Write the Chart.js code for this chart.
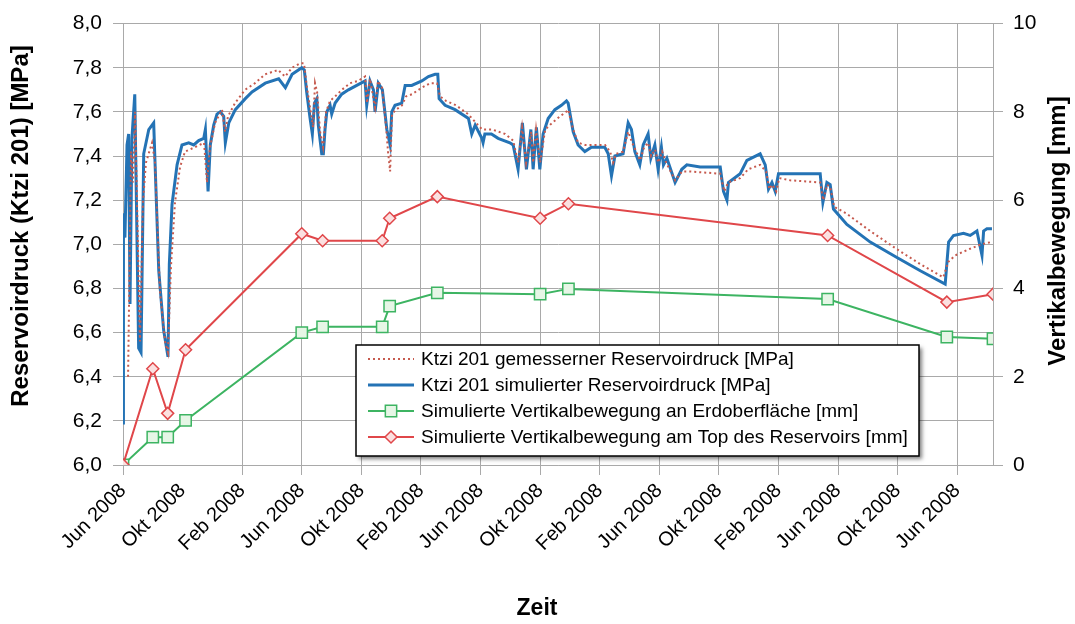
<!DOCTYPE html>
<html>
<head>
<meta charset="utf-8">
<title>Reservoirdruck und Vertikalbewegung</title>
<script src="https://cdn.jsdelivr.net/npm/chart.js@4.4.1/dist/chart.umd.min.js"></script>
<style>
  html, body { margin: 0; padding: 0; background: #ffffff; }
  #wrap { width: 1075px; height: 624px; }
</style>
</head>
<body>
<div id="wrap"><canvas id="chart" width="1075" height="624"></canvas></div>
<script>
// ---- Axis labelling ----
const timeLabels = ['Jun 2008', 'Okt 2008', 'Feb 2008', 'Jun 2008', 'Okt 2008', 'Feb 2008',
  'Jun 2008', 'Okt 2008', 'Feb 2008', 'Jun 2008', 'Okt 2008', 'Feb 2008',
  'Jun 2008', 'Okt 2008', 'Jun 2008'];
const monthsPerLabel = 4;          // one time label every 4 months
const lastMonth = 58.4;            // end of the time axis (months after the first label)
const pressureTicks = [6.0, 6.2, 6.4, 6.6, 6.8, 7.0, 7.2, 7.4, 7.6, 7.8, 8.0];
const movementTicks = [0, 2, 4, 6, 8, 10];

const titleLeft = 'Reservoirdruck (Ktzi 201) [MPa]';
const titleRight = 'Vertikalbewegung [mm]';
const titleBottom = 'Zeit';

// ---- Series: simulated reservoir pressure (months, MPa) ----
const simMonths = [0.00,0.03,0.13,0.27,0.38,0.47,0.60,0.79,0.87,1.05,
  1.21,1.39,1.73,2.06,2.13,2.40,2.73,3.02,3.11,3.29,
  3.63,3.96,4.41,4.75,5.08,5.42,5.53,5.71,5.86,6.09,
  6.31,6.53,6.76,6.87,7.10,7.54,8.21,8.66,9.55,10.45,
  10.90,11.35,12.00,12.17,12.33,12.56,12.71,12.85,13.01,13.11,
  13.34,13.45,13.56,13.68,13.90,14.01,14.24,14.68,15.13,15.69,
  16.25,16.36,16.58,16.81,16.92,17.14,17.41,17.71,17.93,18.04,
  18.26,18.71,18.94,19.38,20.06,20.50,20.95,21.13,21.22,21.62,
  22.29,23.19,23.41,23.64,24.09,24.17,24.29,24.73,25.18,25.97,
  26.19,26.52,26.81,27.08,27.38,27.53,27.75,27.98,28.20,28.54,
  28.99,29.43,29.77,29.88,30.22,30.55,31.00,31.44,32.34,32.57,
  32.79,33.02,33.57,33.91,34.13,34.36,34.69,34.92,35.25,35.43,
  35.70,35.92,36.14,36.28,36.51,37.06,37.51,37.85,38.74,40.09,
  40.31,40.54,40.64,41.43,41.88,42.77,43.11,43.33,43.56,43.78,
  44.00,44.56,46.80,46.98,47.25,47.47,47.69,48.59,50.16,51.95,
  53.52,55.19,55.42,55.75,56.42,56.87,57.32,57.66,57.77,57.99,
  58.33];
const simMPa = [6.19,7.14,7.03,7.45,7.50,6.73,7.48,7.68,7.33,6.53,
  6.51,7.41,7.52,7.55,7.41,6.88,6.61,6.49,6.91,7.18,
  7.36,7.45,7.46,7.45,7.47,7.48,7.52,7.24,7.45,7.54,
  7.59,7.60,7.58,7.46,7.55,7.61,7.66,7.69,7.73,7.75,
  7.71,7.77,7.80,7.79,7.69,7.57,7.50,7.64,7.66,7.54,
  7.41,7.41,7.52,7.60,7.63,7.59,7.64,7.68,7.70,7.72,
  7.74,7.63,7.74,7.70,7.60,7.73,7.70,7.52,7.45,7.60,
  7.63,7.64,7.72,7.72,7.74,7.76,7.77,7.77,7.66,7.63,
  7.61,7.57,7.50,7.54,7.48,7.46,7.50,7.50,7.48,7.46,
  7.45,7.34,7.55,7.34,7.52,7.34,7.53,7.34,7.50,7.57,
  7.61,7.63,7.65,7.64,7.51,7.45,7.42,7.44,7.44,7.41,
  7.31,7.40,7.41,7.55,7.52,7.42,7.36,7.45,7.50,7.39,
  7.45,7.34,7.44,7.36,7.39,7.28,7.34,7.36,7.35,7.35,
  7.24,7.20,7.28,7.32,7.38,7.41,7.36,7.25,7.28,7.24,
  7.32,7.32,7.32,7.19,7.28,7.27,7.16,7.09,7.01,6.94,
  6.88,6.82,7.01,7.04,7.05,7.04,7.06,6.95,7.06,7.07,
  7.07];

// ---- Series: measured reservoir pressure (months, MPa) ----
const measMonths = [0.34,0.40,0.54,0.67,0.81,0.94,1.14,1.34,1.54,1.95,
  2.15,2.48,2.82,3.02,3.22,3.49,3.83,4.16,4.83,5.44,
  5.64,5.84,6.18,6.65,6.85,7.05,7.52,8.19,8.86,9.53,
  10.41,10.88,11.35,11.88,12.15,12.35,12.62,12.76,12.89,13.03,
  13.23,13.43,13.63,13.90,14.24,14.69,15.24,15.78,16.25,16.38,
  16.58,16.92,17.12,17.39,17.66,17.79,17.93,18.06,18.33,18.73,
  19.00,19.40,20.07,20.61,21.08,21.28,21.68,22.35,23.16,24.11,
  24.78,25.65,26.19,26.52,26.79,27.06,27.40,27.53,27.73,28.00,
  28.34,28.81,29.34,29.75,29.88,30.22,30.55,31.02,31.49,32.36,
  32.70,32.90,33.10,33.57,33.91,34.18,34.45,34.71,34.98,35.25,
  35.45,35.72,35.92,36.19,36.46,37.06,37.53,38.07,40.09,40.36,
  40.62,41.43,41.97,42.77,43.17,43.38,43.58,43.85,44.05,44.78,
  46.80,47.00,47.27,47.47,47.74,48.55,50.16,51.90,53.52,55.06,
  55.39,55.87,56.87,57.61,58.28];
const measMPa = [6.40,6.70,7.42,7.28,7.60,7.19,6.56,7.19,7.37,7.46,
  7.37,6.79,6.56,6.51,6.90,7.19,7.35,7.42,7.44,7.46,
  7.28,7.44,7.55,7.61,7.51,7.58,7.64,7.70,7.73,7.77,
  7.79,7.76,7.80,7.82,7.82,7.71,7.59,7.53,7.73,7.69,
  7.51,7.44,7.60,7.65,7.67,7.70,7.73,7.74,7.76,7.64,
  7.75,7.62,7.74,7.71,7.53,7.42,7.33,7.59,7.61,7.63,
  7.67,7.68,7.71,7.73,7.73,7.67,7.65,7.63,7.59,7.52,
  7.52,7.50,7.47,7.37,7.53,7.37,7.51,7.37,7.52,7.37,
  7.52,7.55,7.58,7.60,7.61,7.52,7.46,7.45,7.45,7.45,
  7.42,7.37,7.41,7.42,7.51,7.46,7.42,7.38,7.44,7.46,
  7.40,7.43,7.37,7.42,7.37,7.29,7.33,7.33,7.32,7.24,
  7.28,7.30,7.34,7.36,7.33,7.25,7.27,7.24,7.30,7.29,
  7.28,7.20,7.27,7.26,7.17,7.14,7.06,6.98,6.91,6.85,
  6.92,6.95,6.98,7.00,7.01];

// ---- Series: simulated vertical movement (months, mm) ----
const stageMonths = [0, 2.0, 3.0, 4.2, 12.0, 13.4, 17.4, 17.9, 21.1, 28.0, 29.9, 47.3, 55.3, 58.4];
const surfaceMm   = [0, 0.63, 0.63, 1.01, 3.00, 3.13, 3.13, 3.60, 3.90, 3.87, 3.99, 3.76, 2.90, 2.86];
const reservoirTopMm = [0, 2.18, 1.17, 2.61, 5.24, 5.08, 5.08, 5.59, 6.08, 5.59, 5.92, 5.20, 3.69, 3.87];

const FONT = "'Liberation Sans', Arial, Helvetica, sans-serif";
const GRID = '#a9a9a9';
const zip = (xs, ys) => xs.map((x, i) => ({ x: x, y: ys[i] }));

// Axis titles and the boxed legend inside the plot area
const annotations = {
  id: 'annotations',
  afterDraw(chart) {
    const ctx = chart.ctx;
    ctx.save();
    ctx.fillStyle = '#000';
    ctx.textAlign = 'center';
    ctx.textBaseline = 'middle';
    ctx.font = 'bold 24px ' + FONT;
    ctx.save(); ctx.translate(21, 226); ctx.rotate(-Math.PI / 2); ctx.fillText(titleLeft, 0, 0); ctx.restore();
    ctx.save(); ctx.translate(1058, 231); ctx.rotate(-Math.PI / 2); ctx.fillText(titleRight, 0, 0); ctx.restore();
    ctx.font = 'bold 23px ' + FONT;
    ctx.fillText(titleBottom, 537, 609);

    // legend box with shadow
    const bx = 356, by = 345, bw = 563, bh = 111;
    ctx.save();
    ctx.shadowColor = 'rgba(0,0,0,0.5)';
    ctx.shadowOffsetX = 3; ctx.shadowOffsetY = 3; ctx.shadowBlur = 4;
    ctx.fillStyle = '#ffffff';
    ctx.fillRect(bx, by, bw, bh);
    ctx.restore();
    ctx.strokeStyle = '#000';
    ctx.lineWidth = 1.5;
    ctx.strokeRect(bx, by, bw, bh);

    ctx.textAlign = 'left';
    ctx.font = '19px ' + FONT;
    chart.data.datasets.forEach((ds, i) => {
      const y = by + 14 + i * 26;
      const x0 = 368, x1 = 414, xm = (x0 + x1) / 2;
      ctx.save();
      ctx.strokeStyle = ds.borderColor;
      ctx.lineWidth = ds.borderWidth;
      ctx.setLineDash(ds.borderDash || []);
      ctx.beginPath(); ctx.moveTo(x0, y); ctx.lineTo(x1, y); ctx.stroke();
      ctx.setLineDash([]);
      if (ds.pointRadius > 0) {
        const r = ds.pointRadius;
        ctx.fillStyle = ds.pointBackgroundColor;
        ctx.strokeStyle = ds.pointBorderColor;
        ctx.lineWidth = ds.pointBorderWidth;
        ctx.beginPath();
        if (ds.pointStyle === 'rect') {
          const s = r * Math.SQRT1_2;
          ctx.rect(xm - s, y - s, 2 * s, 2 * s);
        } else {
          ctx.moveTo(xm, y - r); ctx.lineTo(xm + r, y); ctx.lineTo(xm, y + r); ctx.lineTo(xm - r, y); ctx.closePath();
        }
        ctx.fill(); ctx.stroke();
      }
      ctx.restore();
      ctx.fillStyle = '#000';
      ctx.fillText(ds.label, 421, y + 1);
    });
    ctx.restore();
  }
};

new Chart(document.getElementById('chart'), {
  type: 'line',
  data: {
    datasets: [
      {
        label: 'Ktzi 201 gemesserner Reservoirdruck [MPa]',
        data: zip(measMonths, measMPa),
        yAxisID: 'yP',
        borderColor: '#c65a4e',
        borderWidth: 2,
        borderDash: [2, 3],
        pointRadius: 0,
        order: 0
      },
      {
        label: 'Ktzi 201 simulierter Reservoirdruck [MPa]',
        data: zip(simMonths, simMPa),
        yAxisID: 'yP',
        borderColor: '#2473b5',
        borderWidth: 3,
        pointRadius: 0,
        order: 1
      },
      {
        label: 'Simulierte Vertikalbewegung an Erdoberfläche [mm]',
        data: zip(stageMonths, surfaceMm),
        yAxisID: 'yM',
        borderColor: '#3db462',
        borderWidth: 2,
        pointStyle: 'rect',
        pointRadius: 8,
        pointBackgroundColor: '#e6f6e6',
        pointBorderColor: '#3db462',
        pointBorderWidth: 1.5,
        order: 3
      },
      {
        label: 'Simulierte Vertikalbewegung am Top des Reservoirs [mm]',
        data: zip(stageMonths, reservoirTopMm),
        yAxisID: 'yM',
        borderColor: '#e0474a',
        borderWidth: 2,
        pointStyle: 'rectRot',
        pointRadius: 6,
        pointBackgroundColor: '#fbe0e0',
        pointBorderColor: '#e0474a',
        pointBorderWidth: 1.5,
        order: 2
      }
    ]
  },
  options: {
    responsive: false,
    animation: false,
    devicePixelRatio: 1,
    layout: { padding: { left: 0, right: 0, top: 21, bottom: 0 } },
    plugins: { legend: { display: false }, tooltip: { enabled: false } },
    elements: { line: { tension: 0 } },
    scales: {
      x: {
        type: 'linear',
        min: 0,
        max: lastMonth,
        afterBuildTicks: s => { s.ticks = timeLabels.map((_, i) => ({ value: i * monthsPerLabel })); },
        afterFit: s => { s.height = 159; },
        ticks: {
          autoSkip: false,
          minRotation: 45,
          maxRotation: 45,
          padding: 4,
          color: '#000',
          font: { family: FONT, size: 20 },
          callback: v => timeLabels[Math.round(v / monthsPerLabel)]
        },
        grid: {
          color: c => (c.index === 1 ? 'rgba(0,0,0,0)' : GRID),
          lineWidth: 1,
          tickLength: 10
        },
        border: { display: true, color: GRID }
      },
      yP: {
        type: 'linear',
        position: 'left',
        min: 6,
        max: 8,
        afterBuildTicks: s => { s.ticks = pressureTicks.map(v => ({ value: v })); },
        afterFit: s => { s.width = 123; },
        ticks: {
          padding: 11,
          color: '#000',
          font: { family: FONT, size: 21 },
          callback: v => v.toFixed(1).replace('.', ',')
        },
        grid: { color: GRID, lineWidth: 1, tickLength: 10 },
        border: { display: true, color: GRID }
      },
      yM: {
        type: 'linear',
        position: 'right',
        min: 0,
        max: 10,
        afterBuildTicks: s => { s.ticks = movementTicks.map(v => ({ value: v })); },
        afterFit: s => { s.width = 82; },
        ticks: {
          padding: 10,
          color: '#000',
          font: { family: FONT, size: 21 },
          callback: v => String(v)
        },
        grid: { drawOnChartArea: false, color: GRID, lineWidth: 1, tickLength: 10 },
        border: { display: true, color: GRID }
      }
    }
  },
  plugins: [annotations]
});
</script>
</body>
</html>
